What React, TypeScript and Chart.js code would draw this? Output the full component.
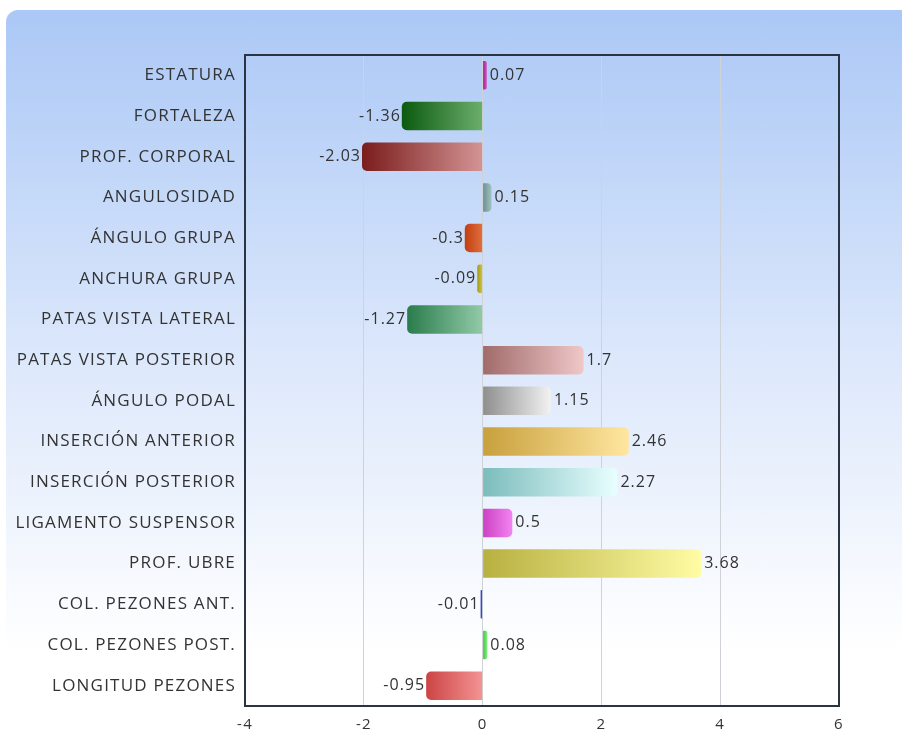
import React, { useEffect, useRef } from "react";
import { Chart, registerables } from "chart.js";

Chart.register(...registerables);

const categories = [
  "ESTATURA",
  "FORTALEZA",
  "PROF. CORPORAL",
  "ANGULOSIDAD",
  "ÁNGULO GRUPA",
  "ANCHURA GRUPA",
  "PATAS VISTA LATERAL",
  "PATAS VISTA POSTERIOR",
  "ÁNGULO PODAL",
  "INSERCIÓN ANTERIOR",
  "INSERCIÓN POSTERIOR",
  "LIGAMENTO SUSPENSOR",
  "PROF. UBRE",
  "COL. PEZONES ANT.",
  "COL. PEZONES POST.",
  "LONGITUD PEZONES",
];

const values = [0.07, -1.36, -2.03, 0.15, -0.3, -0.09, -1.27, 1.7, 1.15, 2.46, 2.27, 0.5, 3.68, -0.01, 0.08, -0.95];

const darkColors = [
  "#a01c8c", "#0b5a10", "#7a1c1c", "#688e8e", "#c03e12", "#a09a1a", "#2a7c4c", "#a06a6a",
  "#8e8e8e", "#c8a03c", "#7cbcbc", "#cc40c4", "#b8b040", "#3848c0", "#3cc03c", "#cc4444",
];
const lightColors = [
  "#d050c0", "#6cae6c", "#d49494", "#a2c2c2", "#e0703e", "#d4c844", "#92caa8", "#f0c8c8",
  "#f2f2f2", "#ffe6a0", "#e8ffff", "#f284f0", "#fffca4", "#6878e0", "#84f084", "#f49494",
];

const xTicks = [-4, -2, 0, 2, 4, 6];

const FONT = "'Open Sans', sans-serif";

export default function App() {
  const ref = useRef<HTMLCanvasElement | null>(null);

  useEffect(() => {
    if (!ref.current) return;
    const spacingPlugin = {
      id: "spacing",
      beforeDraw(chart: any) {
        (chart.ctx as any).letterSpacing = "1.2px";
      },
      beforeDatasetsDraw(chart: any) {
        (chart.ctx as any).letterSpacing = "0px";
      },
    };
    const framePlugin = {
      id: "frame",
      afterDraw(chart: any) {
        const { ctx, chartArea } = chart;
        ctx.save();
        ctx.strokeStyle = "#2b3442";
        ctx.lineWidth = 2;
        ctx.strokeRect(chartArea.left, chartArea.top, chartArea.right - chartArea.left, chartArea.bottom - chartArea.top);
        ctx.restore();
      },
    };
    const labelPlugin = {
      id: "barLabels",
      afterDatasetsDraw(chart: any) {
        const { ctx } = chart;
        const meta = chart.getDatasetMeta(0);
        ctx.save();
        ctx.font = `16px ${FONT}`;
        (ctx as any).letterSpacing = "1px";
        ctx.fillStyle = "#333333";
        ctx.textBaseline = "middle";
        meta.data.forEach((el: any, i: number) => {
          const v = values[i];
          const txt = String(v);
          if (v >= 0) {
            ctx.textAlign = "left";
            ctx.fillText(txt, el.x + 3, el.y);
          } else {
            ctx.textAlign = "right";
            ctx.fillText(txt, el.x - 1, el.y);
          }
        });
        ctx.restore();
      },
    };

    const chart = new Chart(ref.current, {
      type: "bar",
      data: {
        labels: categories,
        datasets: [
          {
            data: values,
            backgroundColor: (ctx: any) => {
              const chart = ctx.chart;
              const i = ctx.dataIndex;
              const xs = chart.scales && chart.scales.x;
              if (!xs || i === undefined) return darkColors[i ?? 0];
              const p0 = xs.getPixelForValue(0);
              const p1 = xs.getPixelForValue(values[i]);
              const l = Math.min(p0, p1);
              const r = Math.max(p0, p1);
              if (!isFinite(l) || r - l < 1) return darkColors[i];
              const g = chart.ctx.createLinearGradient(l, 0, r, 0);
              g.addColorStop(0, darkColors[i]);
              g.addColorStop(1, lightColors[i]);
              return g;
            },
            borderRadius: 5,
            borderSkipped: "start",
            minBarLength: 2,
            categoryPercentage: 1,
            barPercentage: 0.7,
          },
        ],
      },
      options: {
        indexAxis: "y",
        responsive: false,
        animation: false,
        devicePixelRatio: 1,
        layout: { padding: { left: 0, right: 63, top: 55, bottom: 0 } },
        plugins: {
          legend: { display: false },
          tooltip: { enabled: false },
        },
        scales: {
          x: {
            min: -4,
            max: 6,
            afterBuildTicks: (s: any) => {
              s.ticks = xTicks.map((v) => ({ value: v }));
            },
            afterFit: (s: any) => {
              s.height = 30;
            },
            grid: { color: "#cfd3d8", drawTicks: false, lineWidth: 1 },
            border: { display: false },
            ticks: { color: "#333333", font: { family: FONT, size: 15 }, padding: 10 },
          },
          y: {
            afterFit: (s: any) => {
              s.width = 245;
            },
            grid: { display: false, drawTicks: false },
            border: { display: false },
            ticks: { color: "#333333", font: { family: FONT, size: 17 }, padding: 9, autoSkip: false },
          },
        },
      } as any,
      plugins: [spacingPlugin, framePlugin, labelPlugin],
    });
    return () => chart.destroy();
  }, []);

  return (
    <div style={{ position: "absolute", left: 0, top: 0, width: 902, height: 736, overflow: "hidden", background: "#ffffff" }}>
      <div
        style={{
          position: "absolute",
          left: 6,
          top: 10,
          width: 1000,
          height: 900,
          borderTopLeftRadius: 12,
          background: "linear-gradient(to bottom, #abc8f6 0px, #dbe7fb 340px, #ffffff 640px)",
        }}
      />
      <canvas ref={ref} width={902} height={736} style={{ position: "absolute", left: 0, top: 0 }} />
    </div>
  );
}
